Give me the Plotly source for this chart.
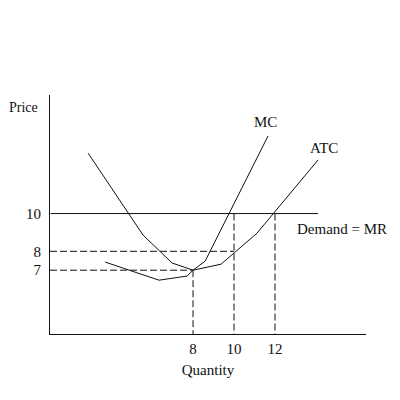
import plotly.graph_objects as go

# Data (economic units)
mc_q = [2.88, 5.56, 6.98, 8.0, 8.59, 11.66]
mc_p = [13.2, 8.86, 7.38, 7.0, 7.48, 14.11]
atc_q = [3.71, 6.34, 7.71, 8.0, 9.37, 10.0, 11.12, 14.1]
atc_p = [7.43, 6.47, 6.69, 7.0, 7.32, 7.9, 8.96, 12.84]
demand_q = [1.05, 14.1]
demand_p = [10, 10]
x_ticks = [8, 10, 12]
y_ticks = [7, 8, 10]

FONT = "Liberation Serif"
black = "#111111"
FS = 15

fig = go.Figure()
line = dict(color=black, width=1)
dash = dict(color=black, width=1, dash="7px,3px")

fig.add_trace(go.Scatter(x=mc_q, y=mc_p, mode="lines", line=line))
fig.add_trace(go.Scatter(x=atc_q, y=atc_p, mode="lines", line=line))
fig.add_trace(go.Scatter(x=demand_q, y=demand_p, mode="lines", line=line))

x0 = 1.02
ybase = 3.62
# dashed guides
fig.add_trace(go.Scatter(x=[x0, 10], y=[8, 8], mode="lines", line=dash))
fig.add_trace(go.Scatter(x=[x0, 8], y=[7, 7], mode="lines", line=dash))
fig.add_trace(go.Scatter(x=[8, 8], y=[7, ybase], mode="lines", line=dash))
fig.add_trace(go.Scatter(x=[10, 10], y=[10, ybase], mode="lines", line=dash))
fig.add_trace(go.Scatter(x=[12, 12], y=[10, ybase], mode="lines", line=dash))

fig.update_traces(hoverinfo="skip")

fig.add_annotation(x=11.56, y=14.85, text="MC", showarrow=False,
                   font=dict(family=FONT, size=FS, color=black))
fig.add_annotation(x=14.39, y=13.47, text="ATC", showarrow=False,
                   font=dict(family=FONT, size=FS, color=black))
fig.add_annotation(x=15.27, y=9.17, text="Demand = MR", showarrow=False,
                   font=dict(family=FONT, size=FS, color=black))
fig.add_annotation(x=(23 - 50) / 316, y=(400 - 66 - 107) / 239,
                   xref="paper", yref="paper", text="Price",
                   xanchor="center", yanchor="middle", showarrow=False,
                   font=dict(family=FONT, size=14, color=black))

fig.update_layout(
    width=400, height=400,
    margin=dict(l=50, r=34, t=95, b=66),
    paper_bgcolor="white", plot_bgcolor="white",
    showlegend=False,
    font=dict(family=FONT, size=FS, color=black),
    xaxis=dict(range=[1.02, 16.44], showgrid=False, zeroline=False,
               showline=True, linecolor=black, linewidth=1,
               tickvals=x_ticks, ticktext=[str(v) for v in x_ticks],
               ticks="", ticklabelstandoff=1,
               title=dict(text="Quantity", standoff=8,
                          font=dict(family=FONT, size=FS, color=black))),
    yaxis=dict(range=[3.62, 16.28], showgrid=False, zeroline=False,
               showline=True, linecolor=black, linewidth=1,
               tickvals=y_ticks, ticktext=[str(v) for v in y_ticks],
               ticks="", ticklabelstandoff=5),
)

fig.write_html("out.html")
